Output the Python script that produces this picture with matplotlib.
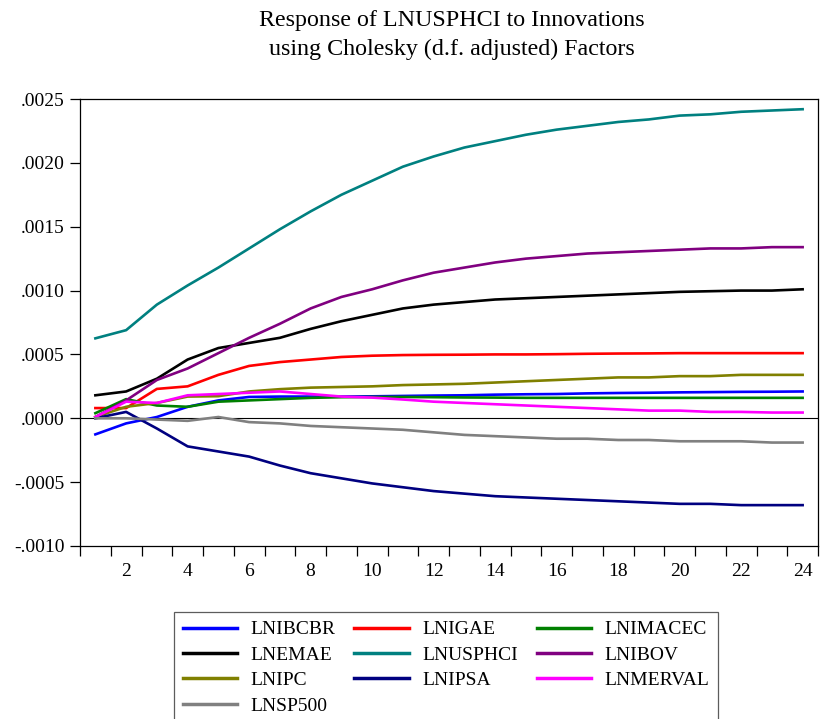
import matplotlib
matplotlib.use("Agg")
import matplotlib.pyplot as plt
from matplotlib.ticker import FuncFormatter, MultipleLocator
import numpy as np

plt.rcParams['font.family'] = ['Liberation Serif', 'DejaVu Serif']

periods = list(range(1, 25))

lnibcbr = [-0.000126, -0.00004, 0.00001, 0.00009, 0.00014, 0.000167, 0.00017, 0.00017, 0.00017, 0.000172,
           0.000175, 0.000178, 0.00018, 0.000185, 0.000188, 0.00019, 0.000195, 0.000198, 0.0002, 0.000203,
           0.000205, 0.000207, 0.000208, 0.00021]
lnigae = [0.00008, 0.00008, 0.00023, 0.00025, 0.00034, 0.00041, 0.00044, 0.00046, 0.00048, 0.00049,
          0.000495, 0.000497, 0.000498, 0.0005, 0.0005, 0.000502, 0.000505, 0.000507, 0.000508, 0.00051,
          0.00051, 0.00051, 0.00051, 0.00051]
lnimacec = [0.00004, 0.00015, 0.0001, 0.00009, 0.00013, 0.00014, 0.00015, 0.00016, 0.000165, 0.000167,
            0.000167, 0.000165, 0.000163, 0.000162, 0.00016, 0.00016, 0.00016, 0.00016, 0.00016, 0.00016,
            0.00016, 0.00016, 0.00016, 0.00016]
lnemae = [0.00018, 0.00021, 0.00031, 0.00046, 0.00055, 0.00059, 0.00063, 0.0007, 0.00076, 0.00081,
          0.00086, 0.00089, 0.00091, 0.00093, 0.00094, 0.00095, 0.00096, 0.00097, 0.00098, 0.00099,
          0.000995, 0.001, 0.001, 0.00101]
lnusphci = [0.000626, 0.00069, 0.00089, 0.00104, 0.00118, 0.00133, 0.00148, 0.00162, 0.00175, 0.00186,
            0.00197, 0.00205, 0.00212, 0.00217, 0.00222, 0.00226, 0.00229, 0.00232, 0.00234, 0.00237,
            0.00238, 0.0024, 0.00241, 0.00242]
lnibov = [0.00001, 0.00014, 0.0003, 0.00039, 0.00051, 0.00063, 0.00074, 0.00086, 0.00095, 0.00101,
          0.00108, 0.00114, 0.00118, 0.00122, 0.00125, 0.00127, 0.00129, 0.0013, 0.00131, 0.00132,
          0.00133, 0.00133, 0.00134, 0.00134]
lnipc = [0.00001, 0.00009, 0.00012, 0.00017, 0.000173, 0.00021, 0.000228, 0.00024, 0.000245, 0.00025,
         0.00026, 0.000265, 0.00027, 0.00028, 0.00029, 0.0003, 0.00031, 0.00032, 0.00032, 0.00033,
         0.00033, 0.00034, 0.00034, 0.00034]
lnipsa = [0.0, 0.00005, -0.00008, -0.00022, -0.00026, -0.0003, -0.00037, -0.00043, -0.00047, -0.00051,
          -0.00054, -0.00057, -0.00059, -0.00061, -0.00062, -0.00063, -0.00064, -0.00065, -0.00066, -0.00067,
          -0.00067, -0.00068, -0.00068, -0.00068]
lnmerval = [0.00001, 0.00013, 0.00012, 0.00018, 0.00019, 0.0002, 0.00021, 0.00019, 0.00017, 0.000162,
            0.000147, 0.00013, 0.00012, 0.00011, 0.0001, 0.00009, 0.00008, 0.00007, 0.00006, 0.00006,
            0.00005, 0.00005, 0.000045, 0.000045]
lnsp500 = [0.0, 0.0, -0.00001, -0.00002, 0.00001, -0.00003, -0.00004, -0.00006, -0.00007, -0.00008,
           -0.00009, -0.00011, -0.00013, -0.00014, -0.00015, -0.00016, -0.00016, -0.00017, -0.00017, -0.00018,
           -0.00018, -0.00018, -0.00019, -0.00019]

series = [
    ("LNIBCBR", lnibcbr, "#0000ff"),
    ("LNIGAE", lnigae, "#ff0000"),
    ("LNIMACEC", lnimacec, "#008000"),
    ("LNEMAE", lnemae, "#000000"),
    ("LNUSPHCI", lnusphci, "#008080"),
    ("LNIBOV", lnibov, "#800080"),
    ("LNIPC", lnipc, "#808000"),
    ("LNIPSA", lnipsa, "#000080"),
    ("LNMERVAL", lnmerval, "#ff00ff"),
    ("LNSP500", lnsp500, "#808080"),
]

fig = plt.figure(figsize=(8.21, 7.19), dpi=100)
ax = fig.add_axes([80 / 821, 1 - 546 / 719, 738 / 821, 447 / 719])

ax.axhline(0, color="black", linewidth=0.8, zorder=1)
handles = []
for name, vals, col in series:
    h, = ax.plot(periods, vals, color=col, linewidth=1.9, label=name, solid_joinstyle="round")
    handles.append(h)

ax.set_xlim(0.5, 24.5)
ax.set_ylim(-0.001, 0.0025)

# labels on even periods, ticks between periods
ax.set_xticks(range(2, 25, 2))
ax.xaxis.set_minor_locator(MultipleLocator(1, offset=0.5))
ax.tick_params(axis="x", which="major", length=0, pad=12, labelsize=14)
ax.tick_params(axis="x", which="minor", length=7, width=0.9, direction="out")
ax.yaxis.set_major_locator(MultipleLocator(0.0005))
ax.tick_params(axis="y", length=7, width=0.9, direction="out", labelsize=14, pad=4)


def yfmt(v, pos):
    s = f"{v:.4f}"
    return s.replace("0.", ".", 1)


ax.yaxis.set_major_formatter(FuncFormatter(yfmt))
for sp in ax.spines.values():
    sp.set_linewidth(0.9)
    sp.set_color("black")

fig.text(452 / 821, 1 - 10 / 719,
         "Response of LNUSPHCI to Innovations\nusing Cholesky (d.f. adjusted) Factors",
         ha="center", va="top", fontsize=17.3, linespacing=1.5)

# legend reads row by row, matplotlib fills columns first
order = [0, 3, 6, 9, 1, 4, 7, 2, 5, 8]
leg = fig.legend([handles[i] for i in order], [series[i][0] for i in order],
                 loc="upper left", bbox_to_anchor=(174 / 821, 1 - 612 / 719), ncol=3,
                 fontsize=14, handlelength=2.8, handletextpad=0.7, columnspacing=0.95,
                 labelspacing=0.4, borderpad=0.45, borderaxespad=0, frameon=True, fancybox=False)
leg.get_frame().set_edgecolor("#333333")
leg.get_frame().set_linewidth(0.9)
for ln in leg.get_lines():
    ln.set_linewidth(2.5)

fig.savefig("out.png", dpi=100)
